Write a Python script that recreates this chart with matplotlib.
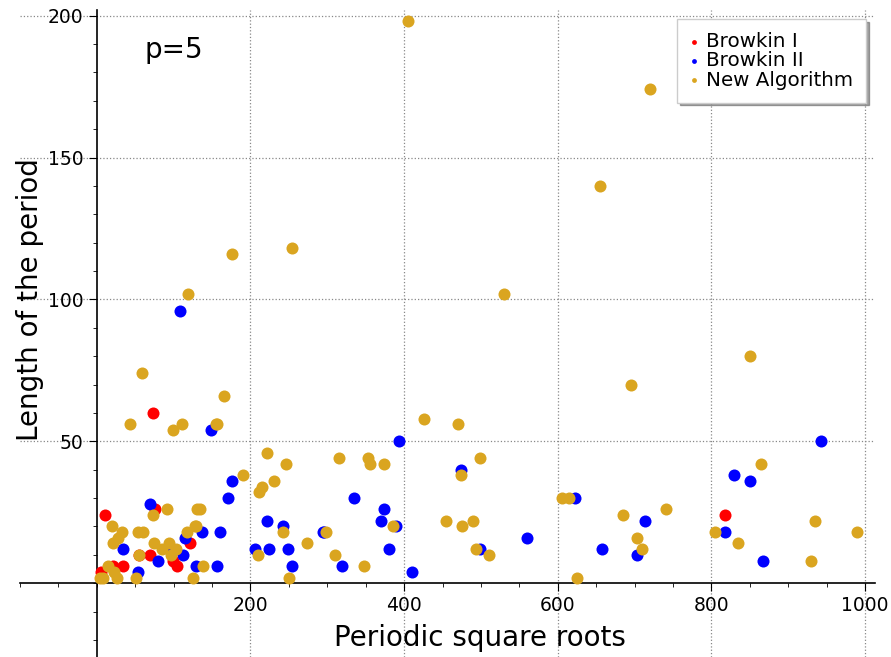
import numpy as np
import matplotlib
matplotlib.use("Agg")
from matplotlib import pyplot as plt
from matplotlib.ticker import MultipleLocator

# Browkin I
b1_x = [10, 76, 73, 121, 69, 55, 99, 104, 34, 21, 6, 818]
b1_y = [24, 26, 60, 14, 10, 10, 8, 6, 6, 6, 4, 24]

# Browkin II
b2_x = [108, 148, 176, 171, 69, 34, 53, 79, 112, 94, 115, 137, 161, 129, 156,
        206, 221, 224, 243, 249, 254, 296, 294, 335, 374, 370, 389, 380, 319,
        393, 410, 474, 499, 560, 622, 658, 714, 703, 829, 850, 818, 867, 943]
b2_y = [96, 54, 36, 30, 28, 12, 4, 8, 10, 12, 16, 18, 18, 6, 6,
        12, 22, 12, 20, 12, 6, 18, 18, 30, 26, 22, 20, 12, 6,
        50, 4, 40, 12, 16, 30, 12, 22, 10, 38, 36, 18, 8, 50]

# New Algorithm
na_x = [405, 720, 655, 530, 850, 59, 119, 176, 254, 426, 470, 695,
        165, 43, 99, 111, 155, 156, 221, 246, 190, 230, 215, 211,
        134, 129, 243, 273, 210, 138, 125, 250, 298, 315, 353, 355, 374,
        499, 474, 385, 454, 475, 490, 493, 510, 310, 348, 605, 615, 625,
        685, 741, 703, 710, 805, 835, 865, 935, 930, 990,
        91, 73, 20, 33, 27, 21, 53, 60, 74, 85, 94, 103, 96, 55, 117, 128,
        131, 15, 23, 8, 26, 51, 4]
na_y = [198, 174, 140, 102, 80, 74, 102, 116, 118, 58, 56, 70,
        66, 56, 54, 56, 56, 56, 46, 42, 38, 36, 34, 32,
        26, 20, 18, 14, 10, 6, 2, 2, 18, 44, 44, 42, 42,
        44, 38, 20, 22, 20, 22, 12, 10, 10, 6, 30, 30, 2,
        24, 26, 16, 12, 18, 14, 42, 22, 8, 18,
        26, 24, 20, 18, 16, 14, 18, 18, 14, 12, 14, 12, 10, 10, 18, 20,
        26, 6, 4, 2, 2, 2, 2]

labels = ["Browkin I", "Browkin II", "New Algorithm"]
colors = ["#ff0000", "#0000ff", "#daa520"]

fig = plt.figure(figsize=(8.91, 6.57), dpi=100)
ax = fig.add_axes([20 / 891, 0.0, 855 / 891, 647 / 657])
ax.set_xlim(-100, 1013)
ax.set_ylim(-26, 202)

for xs, ys, c, lab in zip([b1_x, b2_x, na_x], [b1_y, b2_y, na_y], colors, labels):
    ax.scatter(xs, ys, s=75, color=c, label=lab, zorder=3, linewidths=0)

# sage style axes crossing at the origin
for side in ["top", "right"]:
    ax.spines[side].set_visible(False)
ax.spines["left"].set_position(("data", 0))
ax.spines["bottom"].set_position(("data", 0))
ax.spines["left"].set_linewidth(1.2)
ax.spines["bottom"].set_linewidth(1.2)

ax.xaxis.set_major_locator(MultipleLocator(200))
ax.xaxis.set_minor_locator(MultipleLocator(50))
ax.yaxis.set_major_locator(MultipleLocator(50))
ax.yaxis.set_minor_locator(MultipleLocator(10))
ax.tick_params(which="major", direction="out", length=6, labelsize=13.5)
ax.tick_params(which="minor", direction="out", length=3)
ax.set_xticks([200, 400, 600, 800, 1000])
ax.set_xticklabels(["200", "400", "600", "800", "1000"])
ax.set_yticks([50, 100, 150, 200])
ax.set_yticklabels(["50", "100", "150", "200"])

ax.grid(True, which="major", linestyle=":", color="#888888", linewidth=0.9)
ax.set_axisbelow(True)

fig.text(480 / 891, 1 - 638 / 657, "Periodic square roots", fontsize=20,
         ha="center", va="center")
fig.text(30 / 891, 1 - 300 / 657, "Length of the period", fontsize=20,
         ha="center", va="center", rotation=90)
ax.text(100, 188, "p=5", fontsize=20, ha="center", va="center")

ax.legend(loc="upper right", bbox_to_anchor=(866 / 891, 1 - 19 / 657),
          bbox_transform=fig.transFigure, fontsize=14.3, markerscale=0.4,
          handlelength=0.4, handletextpad=0.4, labelspacing=0.02,
          borderpad=0.65, borderaxespad=0, fancybox=False, shadow=True,
          framealpha=1, edgecolor="#cccccc")

fig.savefig("out.png", dpi=100)
